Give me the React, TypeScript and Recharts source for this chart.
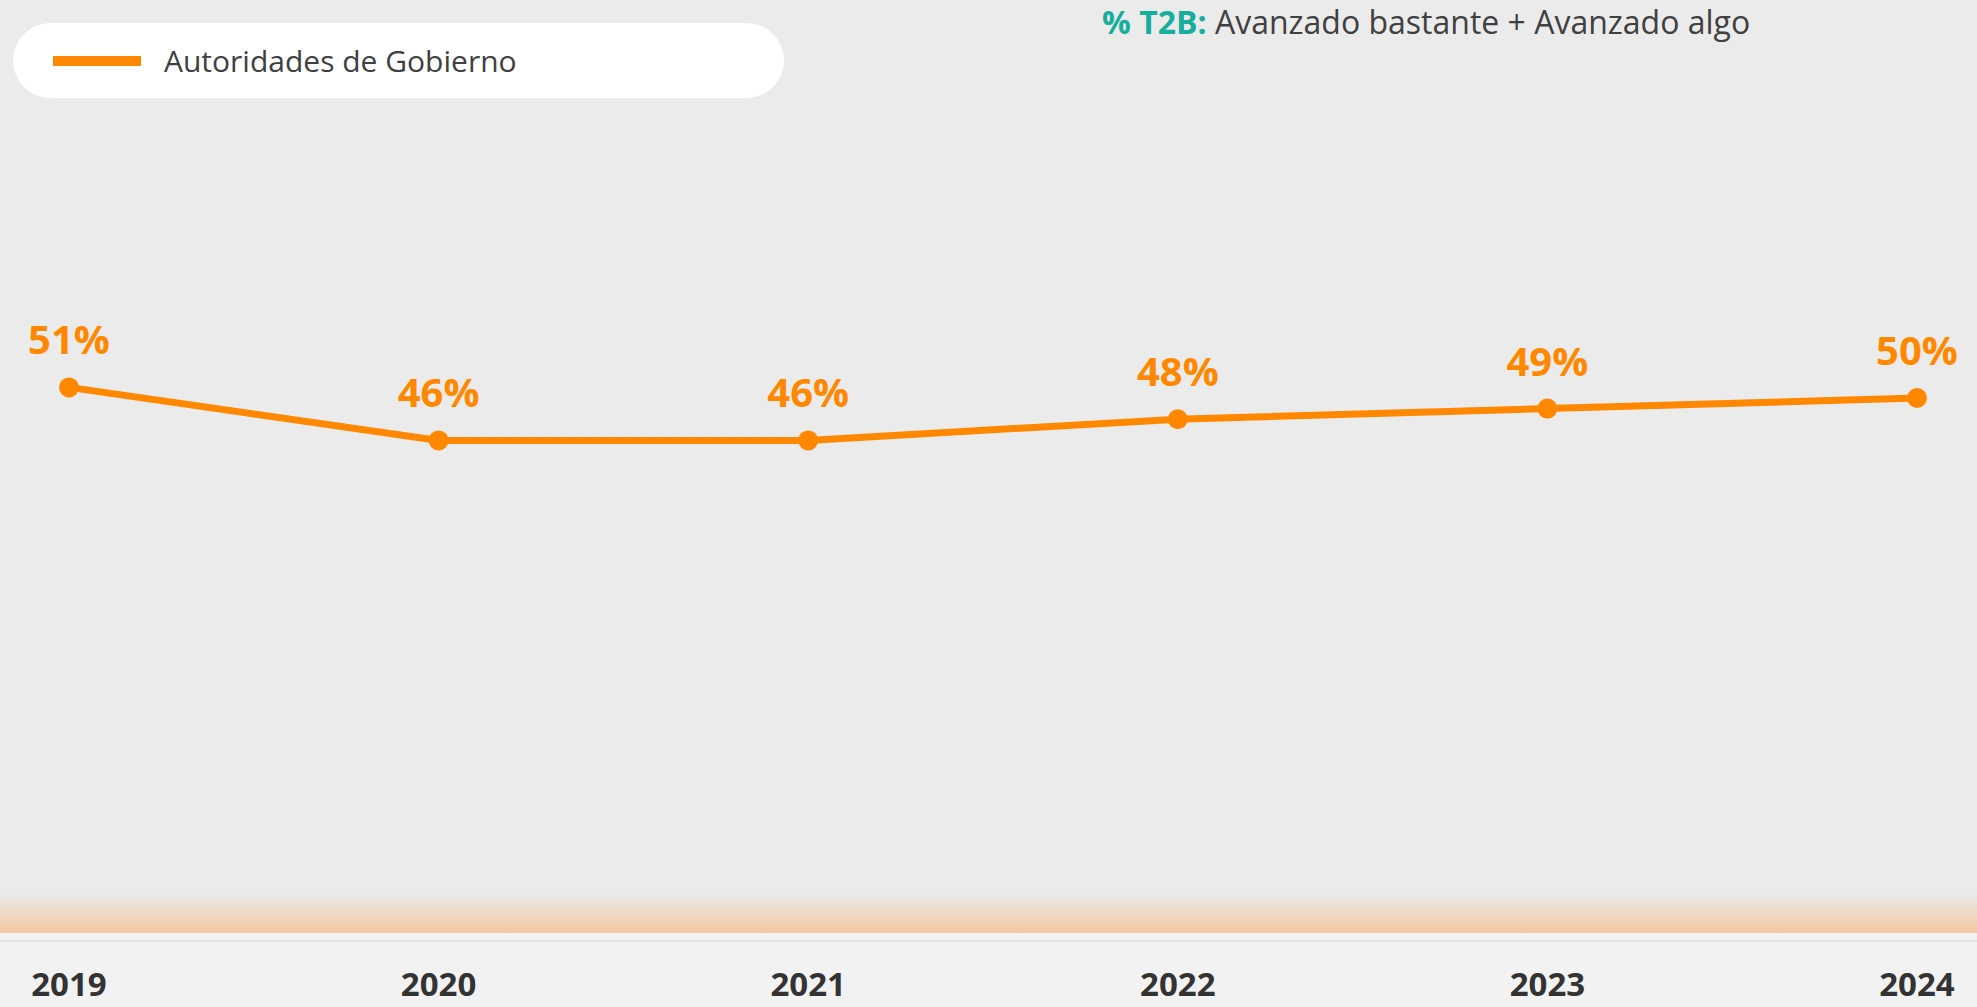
import { LineChart, Line, XAxis, YAxis, LabelList } from 'recharts';

const years = ['2019', '2020', '2021', '2022', '2023', '2024'];
const autoridades = [51, 46, 46, 48, 49, 50];
const seriesName = 'Autoridades de Gobierno';

const data = years.map((year, i) => ({ year, value: autoridades[i] }));

const ORANGE = '#FF8800';
const FONT = '"Open Sans", "Noto Sans", sans-serif';

function YearTick({ x, y, payload }: any) {
  return (
    <text
      x={x}
      y={y + 60}
      textAnchor="middle"
      fill="#333333"
      fontFamily={FONT}
      fontSize={33}
      fontWeight={700}
    >
      {payload.value}
    </text>
  );
}

function PctLabel({ x, y, value }: any) {
  return (
    <text
      x={x}
      y={y - 33}
      textAnchor="middle"
      fill={ORANGE}
      fontFamily={FONT}
      fontSize={40}
      fontWeight={700}
    >
      {value}%
    </text>
  );
}

export default function App() {
  return (
    <div style={{
      position: 'absolute',
      top: 0,
      left: 0,
      width: 1977,
      height: 1007,
      overflow: 'hidden',
      background: 'linear-gradient(to bottom, #ebebeb 0px, #ebebeb 893px, #f2c8a0 933px, #f2f2f2 933px, #f2f2f2 940px, #e4e4e4 940px, #e4e4e4 942px, #f2f2f2 942px)',
    }}>
      {/* legend pill */}
      <div style={{
        position: 'absolute',
        top: 23,
        left: 13,
        width: 771,
        height: 75,
        background: '#ffffff',
        borderRadius: 38,
        display: 'flex',
        alignItems: 'center',
        fontFamily: FONT,
      }}>
        <div style={{ width: 88, height: 10, background: ORANGE, marginLeft: 40, marginRight: 23 }} />
        <span style={{ fontSize: 30, color: '#404040' }}>{seriesName}</span>
      </div>
      <div style={{
        position: 'absolute',
        top: 0,
        left: 1102,
        fontFamily: FONT,
        fontSize: 32,
        color: '#404040',
        whiteSpace: 'nowrap',
      }}>
        <span style={{ color: '#17AE9E', fontWeight: 700 }}>% T2B:</span> Avanzado bastante + Avanzado algo
      </div>
      <LineChart
        width={1977}
        height={1007}
        data={data}
        margin={{ top: 80, right: 60, bottom: 0, left: 69 }}
      >
        <XAxis
          dataKey="year"
          height={79}
          axisLine={false}
          tickLine={false}
          interval={0}
          tick={<YearTick />}
        />
        <YAxis hide domain={[0, 80]} />
        <Line
          type="linear"
          dataKey="value"
          name={seriesName}
          stroke={ORANGE}
          strokeWidth={7}
          dot={{ r: 10, fill: ORANGE, stroke: 'none' }}
          activeDot={false}
          isAnimationActive={false}
        >
          <LabelList dataKey="value" content={<PctLabel />} />
        </Line>
      </LineChart>
    </div>
  );
}
